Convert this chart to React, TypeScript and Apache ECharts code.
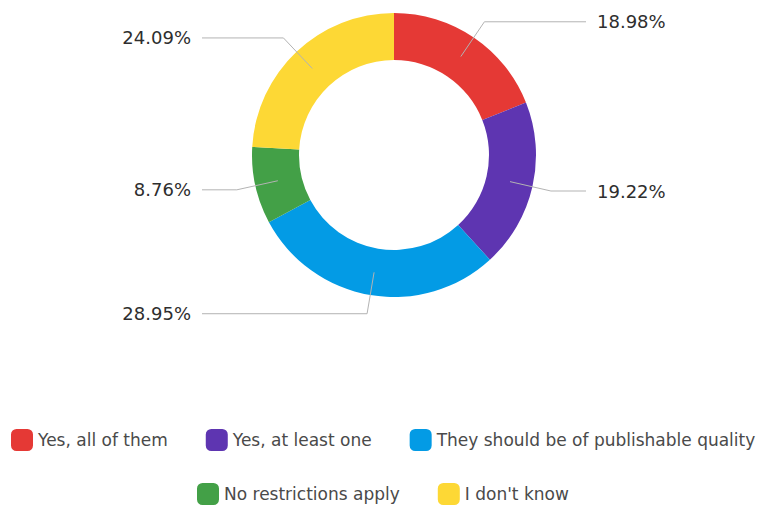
import React, { useEffect, useRef } from "react";
import * as echarts from "echarts";

const categories = [
  "Yes, all of them",
  "Yes, at least one",
  "They should be of publishable quality",
  "No restrictions apply",
  "I don't know",
];
const values = [18.98, 19.22, 28.95, 8.76, 24.09];
const colors = ["#e53935", "#5e35b1", "#039be5", "#43a047", "#fdd835"];
const legendRow1 = categories.slice(0, 3);
const legendRow2 = categories.slice(3);

const CX = 394;
const CY = 155;
const LEFT_LINE_END = 202;
const RIGHT_LINE_END = 586;
const LABEL_GAP = 11;

export default function App() {
  const ref = useRef<HTMLDivElement>(null);
  useEffect(() => {
    if (!ref.current) return;
    const chart = echarts.init(ref.current, undefined, { renderer: "svg" });
    const data = categories.map((name, i) => ({ name, value: values[i] }));
    const legendBase = {
      orient: "horizontal",
      padding: 0,
      icon: "roundRect",
      itemWidth: 22,
      itemHeight: 22,
      itemGap: 38,
      textStyle: {
        fontFamily: "DejaVu Sans",
        fontSize: 17,
        color: "#4a4a4a",
      },
    };
    chart.setOption({
      animation: false,
      color: colors,
      legend: [
        { ...legendBase, left: 11, top: 429, data: legendRow1 },
        { ...legendBase, left: 197, top: 483, data: legendRow2 },
      ],
      series: [
        {
          type: "pie",
          center: [CX, CY],
          radius: [95, 142],
          startAngle: 90,
          clockwise: true,
          label: { show: false },
          labelLine: { show: false },
          silent: true,
          z: 2,
          data,
        },
        {
          type: "pie",
          center: [CX, CY],
          radius: [0, 119],
          startAngle: 90,
          clockwise: true,
          silent: true,
          z: 5,
          avoidLabelOverlap: false,
          itemStyle: { color: "rgba(0,0,0,0)" },
          label: {
            show: true,
            position: "outside",
            distanceToLabelLine: LABEL_GAP,
            formatter: (p: any) => p.value.toFixed(2) + "%",
            fontFamily: "DejaVu Sans",
            fontSize: 18,
            color: "#2e2e2e",
          },
          labelLine: {
            show: true,
            length: 42,
            length2: 35,
            lineStyle: { color: "#b3b3b3", width: 1 },
          },
          labelLayout: (params: any) => {
            const pts = params.labelLinePoints;
            if (!pts) return {};
            const isLeft = pts[1][0] < CX;
            const endX = isLeft ? LEFT_LINE_END : RIGHT_LINE_END;
            const y = pts[1][1];
            return {
              x: isLeft ? endX - LABEL_GAP : endX + LABEL_GAP,
              y,
              align: isLeft ? "right" : "left",
              verticalAlign: "middle",
              labelLinePoints: [pts[0], pts[1], [endX, y]],
            };
          },
          emphasis: { disabled: true },
          data,
        },
      ],
    });
    return () => chart.dispose();
  }, []);
  return (
    <div
      ref={ref}
      style={{ position: "fixed", left: 0, top: 0, width: 758, height: 506, background: "#fff" }}
    />
  );
}
